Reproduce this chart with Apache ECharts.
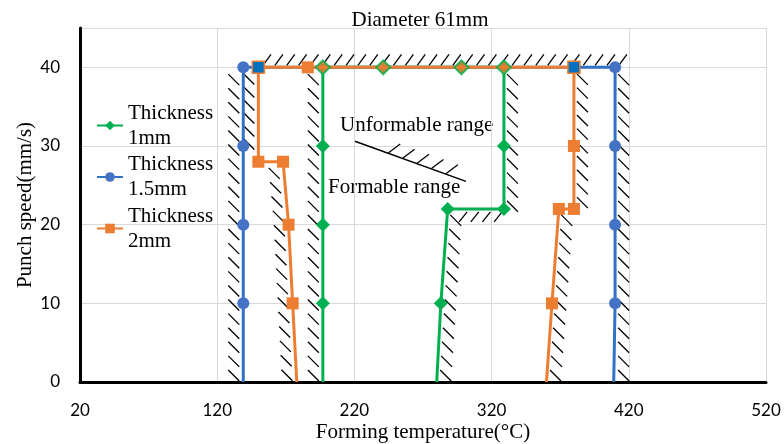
<!DOCTYPE html>
<html>
<head>
<meta charset="utf-8">
<script src="https://cdn.jsdelivr.net/npm/echarts@6/dist/echarts.min.js"></script>
<style>
  html, body { margin: 0; padding: 0; background: #fff; }
  #chart { width: 784px; height: 444px; }
</style>
</head>
<body>
<div id="chart"></div>
<script>
// Tick labels
const xTicks = [20, 120, 220, 320, 420, 520];
const yTicks = [0, 10, 20, 30, 40];

// Boundary of formable range for each sheet thickness (temperature, punch speed)
const temp1mm = [197, 197, 197, 197, 197, 241, 298, 329, 329, 329, 288, 283, 280];
const speed1mm = [0, 10, 20, 30, 40, 40, 40, 40, 30, 22, 22, 10, 0];
const temp15mm = [139, 139, 139, 139, 139, 150, 380, 410, 410, 410, 410, 409];
const speed15mm = [0, 10, 20, 30, 40, 40, 40, 40, 30, 20, 10, 0];
const temp2mm = [178, 175, 172, 168, 150, 150, 186, 380, 380, 380, 369, 364, 360];
const speed2mm = [0, 10, 20, 28, 28, 40, 40, 40, 30, 22, 22, 10, 0];

const seriesNames = ['Thickness\n1mm', 'Thickness\n1.5mm', 'Thickness\n2mm'];

// Hatched boundaries (annotation), in data coordinates
const hatchPaths = [
    { from: [139, 39.4], to: [139, 0], side: 'left' },
    { from: [150, 39.4], to: [150, 29.5], side: 'left' },
    { from: [168, 27.5], to: [172, 20.2], side: 'left' },
    { from: [172, 20.2], to: [178, 0], side: 'left' },
    { from: [197, 39.4], to: [197, 0], side: 'left' },
    { from: [152, 40], to: [420, 40], side: 'up' },
    { from: [329, 39.4], to: [329, 21.5], side: 'right' },
    { from: [295, 22], to: [329, 22], side: 'down' },
    { from: [288, 21.5], to: [280, 0], side: 'right' },
    { from: [380, 39.4], to: [380, 22], side: 'right' },
    { from: [369, 21.5], to: [360, 0], side: 'right' },
    { from: [410, 39.4], to: [410, 0], side: 'right' },
    { from: [220.4, 30.6], to: [301.3, 25.5], side: 'none' },
    { from: [239.4, 29.44], to: [291.9, 26.15], side: 'note' }
];

const GREEN = '#00B050';
const BLUE = '#4472C4';
const BLUE_LINE = '#2f72c6';
const ORANGE = '#ED7D31';
const SERIF = '"Liberation Serif", "Times New Roman", serif';
const SANS = 'Lato, "Open Sans", sans-serif';

// tick shape relative to a point on the boundary [start, end]
const TICKS = {
    left: [[-15, -5], [-4, 6]],
    right: [[3, -5], [14, 6]],
    up: [[-4, -2], [4, -13]],
    down: [[-4, 13], [4, 3]],
    note: [[0, 0], [12, -9]]
};

function points(temps, speeds, hide) {
    return temps.map((t, i) => {
        const item = { value: [t, speeds[i]] };
        if (speeds[i] === 0 || (hide && hide(t, speeds[i]))) item.symbol = 'none';
        return item;
    });
}

const data1mm = points(temp1mm, speed1mm);
const data15mm = points(temp15mm, speed15mm, (t, s) => s === 40 && (t === 150 || t === 380));
const data2mm = points(temp2mm, speed2mm).map(d => {
    // squares shared with the 1.5mm curve are filled blue
    if (d.value[1] === 40 && (d.value[0] === 150 || d.value[0] === 380)) {
        d.itemStyle = { color: '#0070C0', borderColor: ORANGE, borderWidth: 1.5 };
    }
    return d;
});
const topDiamonds = temp1mm
    .map((t, i) => [t, speed1mm[i]])
    .filter(p => p[1] === 40);

function renderHatch(params, api) {
    const h = hatchPaths[params.dataIndex];
    const a = api.coord(h.from);
    const b = api.coord(h.to);
    const children = [];
    const style = { stroke: '#000', lineWidth: 1.3 };
    if (h.side === 'none') {
        children.push({ type: 'line', shape: { x1: a[0], y1: a[1], x2: b[0], y2: b[1] }, style: { stroke: '#000', lineWidth: 1.5 } });
    } else {
        const dx = b[0] - a[0], dy = b[1] - a[1];
        const len = Math.hypot(dx, dy);
        const step = h.side === 'note' ? 14.4 : (Math.abs(dx) > Math.abs(dy) ? 12 : 14);
        const n = Math.max(1, Math.round(len / step));
        const tk = TICKS[h.side];
        for (let i = 0; i < n; i++) {
            const t = (i + 0.5) / n;
            const px = a[0] + dx * t, py = a[1] + dy * t;
            children.push({
                type: 'line',
                shape: { x1: px + tk[0][0], y1: py + tk[0][1], x2: px + tk[1][0], y2: py + tk[1][1] },
                style: style
            });
        }
    }
    return { type: 'group', children: children };
}

const chart = echarts.init(document.getElementById('chart'));

const option = {
    animation: false,
    title: {
        text: 'Diameter 61mm',
        left: 415,
        top: 5,
        textAlign: 'center',
        textStyle: { fontFamily: SERIF, fontSize: 21, fontWeight: 'normal', color: '#000' }
    },
    legend: {
        data: seriesNames,
        orient: 'vertical',
        left: 96,
        top: 88,
        padding: 0,
        itemGap: -23.5,
        itemWidth: 26,
        itemHeight: 12,
        textStyle: {
            fontFamily: SERIF,
            fontSize: 21,
            lineHeight: 25,
            color: '#000',
            padding: [25, 0, 0, 0]
        }
    },
    grid: { left: 80, right: 18, top: 28, bottom: 62, containLabel: false, outerBoundsMode: 'none' },
    xAxis: {
        type: 'value',
        min: xTicks[0],
        max: xTicks[xTicks.length - 1],
        interval: 100,
        name: 'Forming temperature(°C)',
        nameLocation: 'middle',
        nameGap: 40,
        nameMoveOverlap: false,
        nameTextStyle: { fontFamily: SERIF, fontSize: 21, color: '#000' },
        axisLine: { show: true, lineStyle: { color: '#000', width: 3 } },
        axisTick: { show: false },
        axisLabel: { margin: 20, fontFamily: SANS, fontSize: 17, color: '#000' },
        splitLine: { show: true, lineStyle: { color: '#d9d9d9', width: 1 } }
    },
    yAxis: {
        type: 'value',
        min: yTicks[0],
        max: 45,
        interval: 10,
        name: 'Punch speed(mm/s)',
        nameLocation: 'middle',
        nameGap: 44,
        nameMoveOverlap: false,
        nameTextStyle: { fontFamily: SERIF, fontSize: 21, color: '#000' },
        axisLine: { show: true, lineStyle: { color: '#000', width: 3 } },
        axisTick: { show: false },
        axisLabel: {
            margin: 20, fontFamily: SANS, fontSize: 17, color: '#000',
            formatter: v => (yTicks.indexOf(v) >= 0 ? String(v) : '')
        },
        splitLine: { show: true, lineStyle: { color: '#d9d9d9', width: 1 } }
    },
    graphic: [
        { type: 'text', left: 340, top: 115, style: { text: 'Unformable range', font: '21px ' + SERIF, fill: '#000' } },
        { type: 'text', left: 328, top: 177, style: { text: 'Formable range', font: '21px ' + SERIF, fill: '#000' } }
    ],
    series: [
        {
            type: 'custom',
            name: 'hatch',
            renderItem: renderHatch,
            data: hatchPaths.map(h => [h.from[0], h.from[1], h.to[0], h.to[1]]),
            encode: { x: [0, 2], y: [1, 3] },
            clip: false,
            silent: true,
            z: 1
        },
        {
            type: 'line',
            name: seriesNames[0],
            data: data1mm,
            symbol: 'diamond',
            symbolSize: 14,
            lineStyle: { color: GREEN, width: 3 },
            itemStyle: { color: GREEN },
            z: 2
        },
        {
            type: 'line',
            name: seriesNames[1],
            data: data15mm,
            symbol: 'circle',
            symbolSize: 12,
            lineStyle: { color: BLUE_LINE, width: 3 },
            itemStyle: { color: BLUE },
            z: 3
        },
        {
            type: 'line',
            name: seriesNames[2],
            data: data2mm,
            symbol: 'rect',
            symbolSize: 12,
            lineStyle: { color: ORANGE, width: 3 },
            itemStyle: { color: ORANGE },
            z: 4
        },
        {
            type: 'scatter',
            name: 'top1mm',
            data: topDiamonds,
            symbol: 'diamond',
            symbolSize: 14,
            itemStyle: { color: ORANGE, borderColor: GREEN, borderWidth: 2 },
            z: 5
        }
    ]
};

chart.setOption(option);
</script>
</body>
</html>
